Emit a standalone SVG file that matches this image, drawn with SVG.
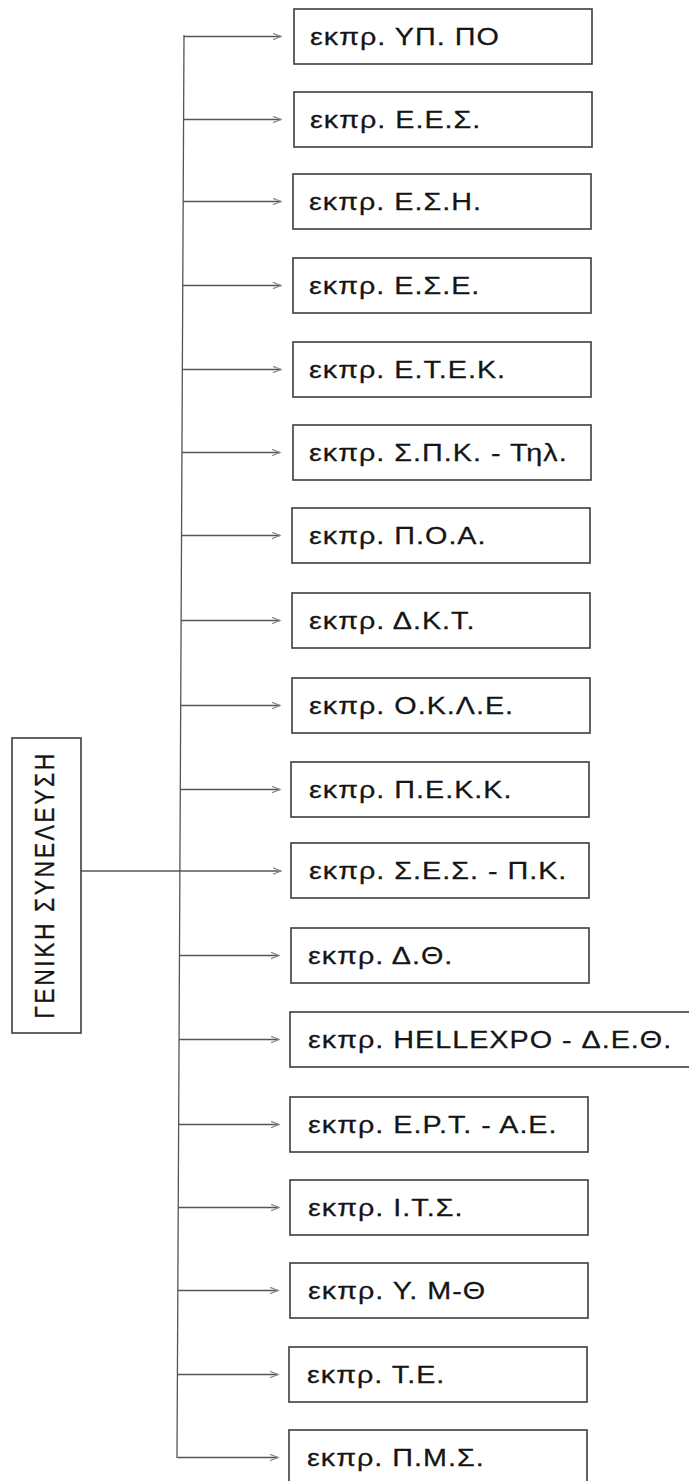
<svg xmlns="http://www.w3.org/2000/svg" width="689" height="1481" viewBox="0 0 689 1481">
<style>
.box{fill:#fff;stroke:#3c3c3c;stroke-width:1.6}
.lbl{font-family:"Liberation Sans",Arial,sans-serif;font-size:23px;letter-spacing:0.8px;fill:#151515;stroke:#151515;stroke-width:0.25}
.conn{stroke:#555;stroke-width:1.3;fill:none}
</style>
<defs>
<marker id="ah" markerUnits="userSpaceOnUse" markerWidth="10" markerHeight="8" refX="8" refY="4" orient="auto">
<path d="M0,0.8 L8,4 L0,7.2" fill="none" stroke="#888" stroke-width="1.2"/>
</marker>
</defs>
<rect x="0" y="0" width="689" height="1481" fill="#fff"/>
<g id="connectors">
<path class="conn" d="M184,35 L177,1458"/>
<path class="conn" d="M81,871 H281" marker-end="url(#ah)"/>
<path class="conn" d="M184,36.5 H281" marker-end="url(#ah)"/>
<path class="conn" d="M183.6,119.5 H281" marker-end="url(#ah)"/>
<path class="conn" d="M183.2,201.5 H281" marker-end="url(#ah)"/>
<path class="conn" d="M182.8,285.5 H281" marker-end="url(#ah)"/>
<path class="conn" d="M182.4,369.5 H281" marker-end="url(#ah)"/>
<path class="conn" d="M182,452.5 H280" marker-end="url(#ah)"/>
<path class="conn" d="M181.6,535.5 H280" marker-end="url(#ah)"/>
<path class="conn" d="M181.2,620.5 H280" marker-end="url(#ah)"/>
<path class="conn" d="M180.8,705.5 H280" marker-end="url(#ah)"/>
<path class="conn" d="M180.4,789.5 H280" marker-end="url(#ah)"/>
<path class="conn" d="M179.6,955.5 H279" marker-end="url(#ah)"/>
<path class="conn" d="M179.2,1039.5 H279" marker-end="url(#ah)"/>
<path class="conn" d="M178.8,1124.5 H279" marker-end="url(#ah)"/>
<path class="conn" d="M178.4,1207.5 H279" marker-end="url(#ah)"/>
<path class="conn" d="M178,1290.5 H278" marker-end="url(#ah)"/>
<path class="conn" d="M177.6,1374.5 H278" marker-end="url(#ah)"/>
<path class="conn" d="M177.2,1457.5 H278" marker-end="url(#ah)"/>
</g>
<g id="n0"><rect class="box" x="12" y="738" width="69" height="295"/>
<text class="lbl" style="letter-spacing:2.5px" text-anchor="middle" transform="translate(54,885) rotate(-90) scale(1,1.2)">ΓΕΝΙΚΗ ΣΥΝΕΛΕΥΣΗ</text></g>
<g id="n1"><rect class="box" x="294" y="9" width="298" height="55"/><text class="lbl" transform="translate(310,45) scale(1.25,1)">εκπρ. ΥΠ. ΠΟ</text></g>
<g id="n2"><rect class="box" x="294" y="92" width="298" height="55"/><text class="lbl" transform="translate(310,128) scale(1.25,1)">εκπρ. Ε.Ε.Σ.</text></g>
<g id="n3"><rect class="box" x="293" y="174" width="298" height="55"/><text class="lbl" transform="translate(309,210) scale(1.25,1)">εκπρ. Ε.Σ.Η.</text></g>
<g id="n4"><rect class="box" x="293" y="258" width="298" height="55"/><text class="lbl" transform="translate(309,294) scale(1.25,1)">εκπρ. Ε.Σ.Ε.</text></g>
<g id="n5"><rect class="box" x="293" y="342" width="298" height="55"/><text class="lbl" transform="translate(309,378) scale(1.25,1)">εκπρ. Ε.Τ.Ε.Κ.</text></g>
<g id="n6"><rect class="box" x="293" y="425" width="298" height="55"/><text class="lbl" transform="translate(309,461) scale(1.25,1)">εκπρ. Σ.Π.Κ. - Τηλ.</text></g>
<g id="n7"><rect class="box" x="292" y="508" width="298" height="55"/><text class="lbl" transform="translate(309,544) scale(1.25,1)">εκπρ. Π.Ο.Α.</text></g>
<g id="n8"><rect class="box" x="292" y="593" width="298" height="55"/><text class="lbl" transform="translate(309,629) scale(1.25,1)">εκπρ. Δ.Κ.Τ.</text></g>
<g id="n9"><rect class="box" x="292" y="678" width="298" height="55"/><text class="lbl" transform="translate(309,714) scale(1.25,1)">εκπρ. Ο.Κ.Λ.Ε.</text></g>
<g id="n10"><rect class="box" x="291" y="762" width="298" height="55"/><text class="lbl" transform="translate(309,798) scale(1.25,1)">εκπρ. Π.Ε.Κ.Κ.</text></g>
<g id="n11"><rect class="box" x="291" y="843" width="298" height="55"/><text class="lbl" transform="translate(309,879) scale(1.25,1)">εκπρ. Σ.Ε.Σ. - Π.Κ.</text></g>
<g id="n12"><rect class="box" x="291" y="928" width="298" height="55"/><text class="lbl" transform="translate(308,964) scale(1.25,1)">εκπρ. Δ.Θ.</text></g>
<g id="n13"><rect class="box" x="290" y="1012" width="420" height="55"/><text class="lbl" transform="translate(308,1048) scale(1.25,1)">εκπρ. HELLEXPO - Δ.Ε.Θ.</text></g>
<g id="n14"><rect class="box" x="290" y="1097" width="298" height="55"/><text class="lbl" transform="translate(308,1133) scale(1.25,1)">εκπρ. Ε.Ρ.Τ. - Α.Ε.</text></g>
<g id="n15"><rect class="box" x="290" y="1180" width="298" height="55"/><text class="lbl" transform="translate(308,1216) scale(1.25,1)">εκπρ. Ι.Τ.Σ.</text></g>
<g id="n16"><rect class="box" x="290" y="1263" width="298" height="55"/><text class="lbl" transform="translate(308,1299) scale(1.25,1)">εκπρ. Υ. Μ-Θ</text></g>
<g id="n17"><rect class="box" x="289" y="1347" width="298" height="55"/><text class="lbl" transform="translate(307,1383) scale(1.25,1)">εκπρ. Τ.Ε.</text></g>
<g id="n18"><rect class="box" x="289" y="1430" width="298" height="60"/><text class="lbl" transform="translate(307,1466) scale(1.25,1)">εκπρ. Π.Μ.Σ.</text></g>
</svg>
